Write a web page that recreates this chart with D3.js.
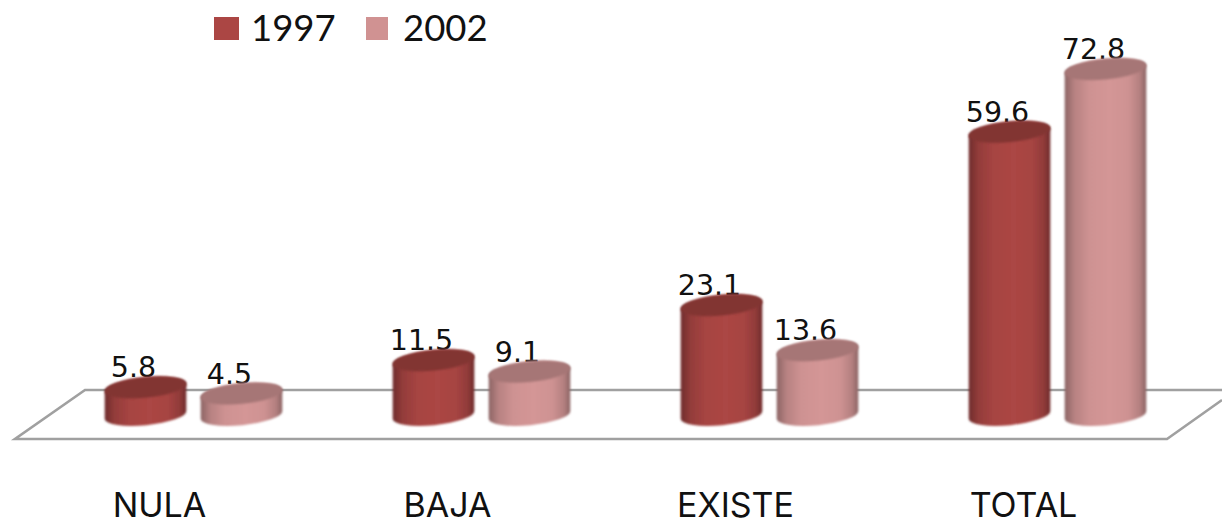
<!DOCTYPE html>
<html>
<head>
<meta charset="utf-8">
<script src="https://cdnjs.cloudflare.com/ajax/libs/d3/7.8.5/d3.min.js"></script>
<style>
  html, body { margin: 0; padding: 0; background: #fff; overflow: hidden; }
  svg { display: block; }
  .domain { display: none; }
</style>
</head>
<body>
<div id="chart"></div>
<script>
// The chart's values
var categories = ["NULA", "BAJA", "EXISTE", "TOTAL"];
var years = ["1997", "2002"];
var values1997 = [5.8, 11.5, 23.1, 59.6];
var values2002 = [4.5, 9.1, 13.6, 72.8];

var width = 1222, height = 520;
var seriesValues = { "1997": values1997, "2002": values2002 };

// Colours per year: legend/body, side of the cylinder, top of the cylinder
var colors = d3.scaleOrdinal().domain(years).range(["#ab4644", "#d49696"]);
var edgeColors = d3.scaleOrdinal().domain(years).range(["#6f2d2c", "#8c6464"]);
var topColors = d3.scaleOrdinal().domain(years).range(["#823533", "#a67676"]);
var legendColors = d3.scaleOrdinal().domain(years).range(["#ab4644", "#d09292"]);

var svg = d3.select("#chart").append("svg")
    .attr("width", width)
    .attr("height", height);

// Scales
var x0 = d3.scaleBand().domain(categories).range([49.5, 1201.5]);
var x1 = d3.scaleBand().domain(years).range([55.5, 232.5]).paddingInner(0.156);
var y = d3.scaleLinear().domain([0, 80]).range([415, 35]);

var defs = svg.append("defs");

// The picture is a slightly soft raster, a small blur gets close to it
// Region is relative to the shape so it works under the transforms below
defs.append("filter").attr("id", "soft")
    .attr("x", "-10%").attr("y", "-60%").attr("width", "120%").attr("height", "220%")
  .append("feGaussianBlur").attr("stdDeviation", 1.1);

defs.append("filter").attr("id", "softLine")
    .attr("filterUnits", "userSpaceOnUse")
    .attr("x", 0).attr("y", 0).attr("width", width).attr("height", height)
  .append("feGaussianBlur").attr("stdDeviation", 0.7);

// Horizontal shading of the cylinders
years.forEach(function(year) {
  var mix = d3.interpolateRgb(edgeColors(year), colors(year));
  var grad = defs.append("linearGradient").attr("id", "grad" + year);
  grad.append("stop").attr("offset", "0%").attr("stop-color", edgeColors(year));
  grad.append("stop").attr("offset", "12%").attr("stop-color", mix(0.6));
  grad.append("stop").attr("offset", "30%").attr("stop-color", mix(0.92));
  grad.append("stop").attr("offset", "55%").attr("stop-color", colors(year));
  grad.append("stop").attr("offset", "78%").attr("stop-color", mix(0.92));
  grad.append("stop").attr("offset", "92%").attr("stop-color", mix(0.55));
  grad.append("stop").attr("offset", "100%").attr("stop-color", edgeColors(year));
});

// Floor of the 3D chart
var floorLeft = 15, floorFront = 1167, floorBack = 85;
var floorTop = y(0) - 25, floorBottom = y(0) + 24;
svg.append("path")
    .attr("fill", "none")
    .attr("stroke-width", 2.6)
    .attr("stroke", "#a0a0a0")
    .attr("filter", "url(#softLine)")
    .attr("d", "M" + width + "," + floorTop + "H" + floorBack + "L" + floorLeft + "," + floorBottom +
               "H" + floorFront + "L" + width + "," + (floorBottom - 39));

// Cylinder outlines, the ends are ellipses tipped up on the right
var rx = 41, ry = 10.2, tilt = -5.6;
var dx = rx * Math.cos(tilt * Math.PI / 180), dy = rx * Math.sin(tilt * Math.PI / 180);

function bodyPath(cx, v) {
  return "M" + (cx - dx) + "," + (y(v) - dy) +
         "L" + (cx - dx) + "," + (y(0) - dy) +
         "A" + rx + "," + ry + "," + tilt + ",0,0," + (cx + dx) + "," + (y(0) + dy) +
         "L" + (cx + dx) + "," + (y(v) + dy) +
         "A" + rx + "," + ry + "," + tilt + ",0,0," + (cx - dx) + "," + (y(v) - dy) + "Z";
}

var groups = svg.selectAll(".group")
    .data(categories)
    .enter().append("g")
    .attr("class", "group")
    .attr("transform", function(c) { return "translate(" + x0(c) + ",0)"; });

var bars = groups.selectAll(".bar")
    .data(function(c, i) {
      return years.map(function(year) { return { year: year, value: seriesValues[year][i] }; });
    })
    .enter().append("g")
    .attr("class", "bar");

function center(d) { return x1(d.year) + x1.bandwidth() / 2; }

// Value labels sit up and left of each cylinder, the top of the cylinder just covers their foot
bars.append("text")
    .attr("x", function(d) { return center(d) - 12; })
    .attr("y", function(d) { return y(d.value) - 10; })
    .attr("text-anchor", "middle")
    .style("font-family", "'DejaVu Sans'")
    .style("font-size", "28.5px")
    .style("fill", "#111")
    .text(function(d) { return d.value.toFixed(1); });

bars.append("path")
    .attr("d", function(d) { return bodyPath(center(d), d.value); })
    .attr("fill", function(d) { return "url(#grad" + d.year + ")"; })
    .attr("filter", "url(#soft)");

bars.append("ellipse")
    .attr("rx", rx)
    .attr("ry", ry)
    .attr("transform", function(d) {
      return "translate(" + center(d) + "," + y(d.value) + ") rotate(" + tilt + ")";
    })
    .attr("fill", function(d) { return topColors(d.year); })
    .attr("filter", "url(#soft)");

// Category labels through a bottom axis
var xAxis = d3.axisBottom(x0).tickSize(0).tickPadding(0);
var axisG = svg.append("g")
    .attr("transform", "translate(-34,490)")
    .call(xAxis);
axisG.selectAll("text")
    .attr("dy", null)
    .attr("y", 27)
    .style("font-family", "Inter")
    .style("font-size", "34px")
    .style("fill", "#111");

// Legend
var legendX = d3.scaleOrdinal().domain(years).range([214, 366]);
var legend = svg.selectAll(".legend")
    .data(years)
    .enter().append("g")
    .attr("class", "legend")
    .attr("transform", function(d) { return "translate(" + legendX(d) + ",17)"; });

legend.append("rect")
    .attr("width", function(d, i) { return i == 0 ? 25 : 22; })
    .attr("height", 23)
    .attr("fill", function(d) { return legendColors(d); });

legend.append("text")
    .attr("x", 37)
    .attr("y", 23.5)
    .style("font-family", "Lato")
    .style("font-size", "36.5px")
    .style("fill", "#111")
    .text(function(d) { return d; });
</script>
</body>
</html>
